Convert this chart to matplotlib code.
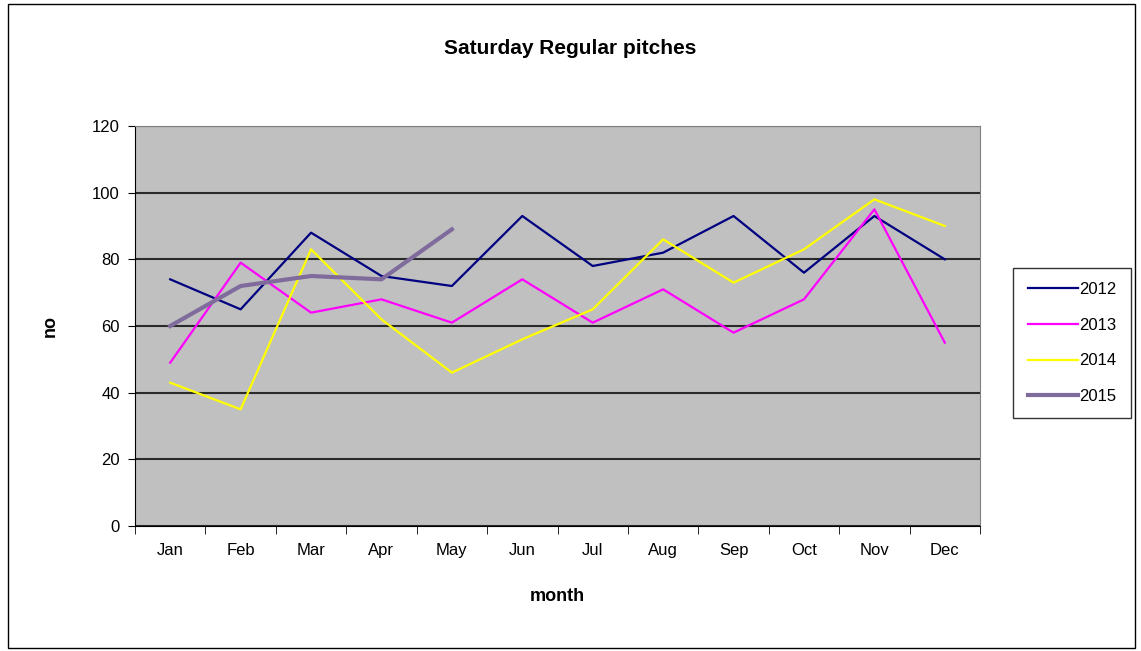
import numpy as np
import matplotlib.pyplot as plt
from matplotlib.patches import Rectangle

months = ['Jan', 'Feb', 'Mar', 'Apr', 'May', 'Jun', 'Jul', 'Aug', 'Sep', 'Oct', 'Nov', 'Dec']
y2012 = [74, 65, 88, 75, 72, 93, 78, 82, 93, 76, 93, 80]
y2013 = [49, 79, 64, 68, 61, 74, 61, 71, 58, 68, 95, 55]
y2014 = [43, 35, 83, 62, 46, 56, 65, 86, 73, 83, 98, 90]
y2015 = [60, 72, 75, 74, 89]

plt.rcParams['font.family'] = ['Liberation Sans', 'DejaVu Sans']

fig = plt.figure(figsize=(11.41, 6.51), dpi=100)
fig.patch.set_facecolor('white')
# outer chart border
fig.add_artist(Rectangle((8 / 1141, 3 / 651), 1127 / 1141, 644 / 651, transform=fig.transFigure,
                         fill=False, edgecolor='black', linewidth=1))

ax = fig.add_axes([135 / 1141, 1 - 526 / 651, 845 / 1141, 400 / 651])
ax.set_facecolor('#C0C0C0')

x = np.arange(len(months))
ax.plot(x, y2012, color='#000080', lw=1.6, label='2012')
ax.plot(x, y2013, color='#FF00FF', lw=1.6, label='2013')
ax.plot(x, y2014, color='#FFFF00', lw=1.6, label='2014')
ax.plot(x[:len(y2015)], y2015, color='#7F6C9C', lw=3, label='2015')

ax.set_xlim(-0.5, 11.5)
ax.set_ylim(0, 120)
ax.set_yticks(range(0, 121, 20))
ax.yaxis.grid(True, color='#2a2a2a', lw=1.5)
ax.set_axisbelow(True)

ax.set_xticks(x)
ax.set_xticklabels(months, fontsize=12)
ax.tick_params(axis='x', length=0, pad=12)
ax.set_xticks(np.arange(-0.5, 12, 1), minor=True)
ax.tick_params(axis='x', which='minor', length=6, direction='out', color='black')
ax.tick_params(axis='y', labelsize=12, length=5, direction='out', pad=6)

for s in ['top', 'right']:
    ax.spines[s].set_color('#808080')
ax.spines['left'].set_color('black')
ax.spines['bottom'].set_color('black')

ax.set_xlabel('month', fontsize=13, fontweight='bold', labelpad=22)
ax.set_ylabel('no', fontsize=13, fontweight='bold', labelpad=24)
fig.suptitle('Saturday Regular pitches', fontsize=15, fontweight='bold', y=1 - 48 / 651, va='center')

leg = ax.legend(loc='center left', bbox_to_anchor=(1005 / 1141, 1 - 343 / 651), bbox_transform=fig.transFigure,
                frameon=True, fancybox=False, edgecolor='black', fontsize=12, handlelength=3.0,
                handletextpad=0.1, labelspacing=1.25, borderpad=0.85)
leg.get_frame().set_linewidth(1)

fig.savefig('out.png', dpi=100)
